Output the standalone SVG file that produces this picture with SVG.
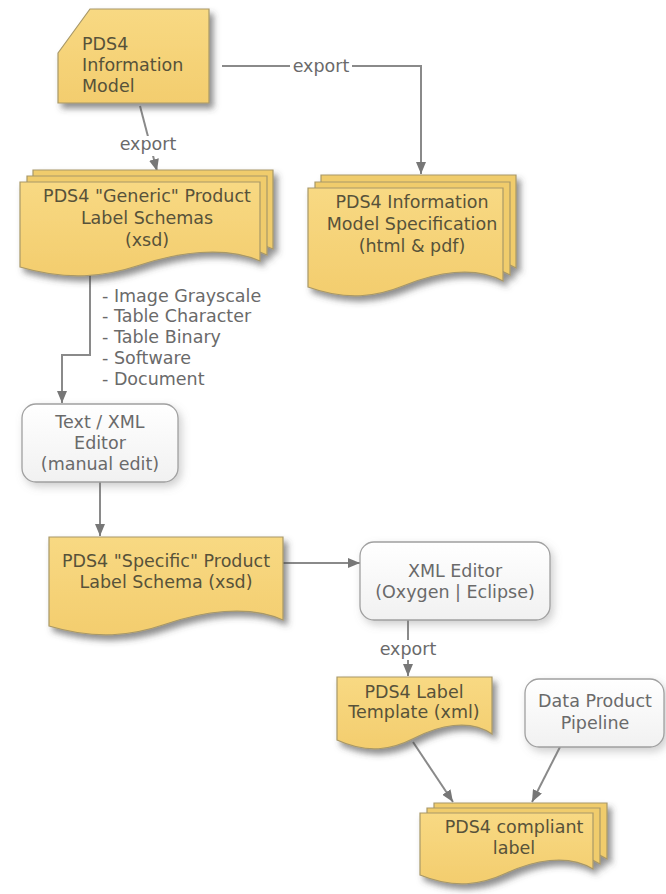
<svg xmlns="http://www.w3.org/2000/svg" xmlns:xlink="http://www.w3.org/1999/xlink" width="666" height="894" viewBox="0 0 666 894">
<style>
  .doc { fill: url(#yellow); stroke: #a89868; stroke-width: 1.2; }
  .back { fill: #F0CC6C; stroke: #a89868; stroke-width: 1.2; }
  .proc { fill: url(#white); stroke: #a0a0a0; stroke-width: 1.3; }
  .t { font-family: "DejaVu Sans", Verdana, sans-serif; font-size: 17.5px; text-anchor: middle; }
  .ty { fill: #57523a; }
  .tg { fill: #6a6a6a; }
  .lbl { font-family: "DejaVu Sans", Verdana, sans-serif; font-size: 17.5px; fill: #6a6a6a; }
  .conn { fill: none; stroke: #8a8a8a; stroke-width: 2; }
</style>
<defs>
  <linearGradient id="yellow" x1="0" y1="0" x2="0" y2="1">
    <stop offset="0" stop-color="#F8D983"/>
    <stop offset="1" stop-color="#F3CD6E"/>
  </linearGradient>
  <linearGradient id="white" x1="0" y1="0" x2="0" y2="1">
    <stop offset="0" stop-color="#ffffff"/>
    <stop offset="1" stop-color="#f1f1f1"/>
  </linearGradient>
  <filter id="shadow" x="-20%" y="-20%" width="150%" height="150%">
    <feDropShadow dx="4" dy="5" stdDeviation="3" flood-color="#444" flood-opacity="0.6"/>
  </filter>
  <filter id="shadowLight" x="-20%" y="-20%" width="150%" height="150%">
    <feDropShadow dx="3" dy="4" stdDeviation="4" flood-color="#777" flood-opacity="0.35"/>
  </filter>
  <marker id="arrow" markerUnits="userSpaceOnUse" markerWidth="12" markerHeight="10" refX="12" refY="5" orient="auto">
    <path d="M0,0 L12,5 L0,10 Z" fill="#777"/>
  </marker>
  <path id="p-generic" d="M20,182 H260 V261 C224,245 176,253 140,265 C104,277 68,281 20,267 Z"/>
  <path id="p-spec" d="M308,188 H503 V281 C474,265 435,273 405.5,285 C376,297 347,301 308,287 Z"/>
  <path id="p-compliant" d="M420,813 H593 V869 C567,853 532.5,861 506.5,873 C480.5,885 454.6,889 420,875 Z"/>
</defs>
<rect width="666" height="894" fill="#ffffff"/>

<g id="connectors">
  <path class="conn" d="M140,106 L157,171" marker-end="url(#arrow)"/>
  <path class="conn" d="M222,66 H421 V174" marker-end="url(#arrow)"/>
  <path class="conn" d="M90,275 V355 H62 V403" marker-end="url(#arrow)"/>
  <path class="conn" d="M100,482 V536" marker-end="url(#arrow)"/>
  <path class="conn" d="M283,563 H360" marker-end="url(#arrow)"/>
  <path class="conn" d="M408,620 V676" marker-end="url(#arrow)"/>
  <path class="conn" d="M413,742 L453,802" marker-end="url(#arrow)"/>
  <path class="conn" d="M560,747 L532,802" marker-end="url(#arrow)"/>
  <rect x="116" y="136" width="64" height="20" fill="#ffffff"/>
  <text class="lbl" x="148" y="150" text-anchor="middle">export</text>
  <rect x="290" y="57" width="62" height="20" fill="#ffffff"/>
  <text class="lbl" x="321" y="72" text-anchor="middle">export</text>
  <rect x="376" y="640" width="64" height="20" fill="#ffffff"/>
  <text class="lbl" x="408" y="655" text-anchor="middle">export</text>
</g>

<g id="info-model">
  <path class="doc" filter="url(#shadow)" d="M58,53 L90,9 H209 V103 H58 Z"/>
  <text class="t ty" text-anchor="start" x="82" y="50" style="text-anchor:start">PDS4</text>
  <text class="t ty" x="82" y="71" style="text-anchor:start">Information</text>
  <text class="t ty" x="82" y="92" style="text-anchor:start">Model</text>
</g>

<g id="generic-schemas">
  <g filter="url(#shadow)">
    <use xlink:href="#p-generic" href="#p-generic" class="back" transform="translate(13,-12)"/>
    <use xlink:href="#p-generic" href="#p-generic" class="back" transform="translate(7,-6)"/>
    <use xlink:href="#p-generic" href="#p-generic" class="doc"/>
  </g>
  <text class="t ty" x="147" y="202">PDS4 "Generic" Product</text>
  <text class="t ty" x="147" y="224">Label Schemas</text>
  <text class="t ty" x="147" y="246">(xsd)</text>
</g>

<g id="model-spec">
  <g filter="url(#shadow)">
    <use xlink:href="#p-spec" href="#p-spec" class="back" transform="translate(13,-13)"/>
    <use xlink:href="#p-spec" href="#p-spec" class="back" transform="translate(7,-6)"/>
    <use xlink:href="#p-spec" href="#p-spec" class="doc"/>
  </g>
  <text class="t ty" x="412" y="208">PDS4 Information</text>
  <text class="t ty" x="412" y="230">Model Specification</text>
  <text class="t ty" x="412" y="252">(html &amp; pdf)</text>
</g>

<g id="product-types">
  <text class="lbl" x="102" y="302">- Image Grayscale</text>
  <text class="lbl" x="102" y="322">- Table Character</text>
  <text class="lbl" x="102" y="343">- Table Binary</text>
  <text class="lbl" x="102" y="364">- Software</text>
  <text class="lbl" x="102" y="385">- Document</text>
</g>

<g id="text-editor">
  <rect class="proc" filter="url(#shadowLight)" x="22" y="404" width="156" height="78" rx="14"/>
  <text class="t tg" x="100" y="428">Text / XML</text>
  <text class="t tg" x="100" y="449">Editor</text>
  <text class="t tg" x="100" y="470">(manual edit)</text>
</g>

<g id="specific-schema">
  <path class="doc" filter="url(#shadow)" d="M49,537 H283 V620 C248,604 201,612 166,624 C131,636 96,640 49,626 Z"/>
  <text class="t ty" x="166" y="567">PDS4 "Specific" Product</text>
  <text class="t ty" x="166" y="588">Label Schema (xsd)</text>
</g>

<g id="xml-editor">
  <rect class="proc" filter="url(#shadowLight)" x="360" y="542" width="190" height="78" rx="14"/>
  <text class="t tg" x="455" y="577">XML Editor</text>
  <text class="t tg" x="455" y="598">(Oxygen | Eclipse)</text>
</g>

<g id="label-template">
  <path class="doc" filter="url(#shadow)" d="M337,677 H492 V734 C469,718 438,726 414.5,738 C391,750 368,754 337,740 Z"/>
  <text class="t ty" x="414" y="698">PDS4 Label</text>
  <text class="t ty" x="414" y="718">Template (xml)</text>
</g>

<g id="pipeline">
  <rect class="proc" filter="url(#shadowLight)" x="525" y="679" width="139" height="68" rx="14"/>
  <text class="t tg" x="595" y="707">Data Product</text>
  <text class="t tg" x="595" y="729">Pipeline</text>
</g>

<g id="compliant-label">
  <g filter="url(#shadow)">
    <use xlink:href="#p-compliant" href="#p-compliant" class="back" transform="translate(14,-10)"/>
    <use xlink:href="#p-compliant" href="#p-compliant" class="back" transform="translate(7,-5)"/>
    <use xlink:href="#p-compliant" href="#p-compliant" class="doc"/>
  </g>
  <text class="t ty" x="514" y="833">PDS4 compliant</text>
  <text class="t ty" x="514" y="854">label</text>
</g>
</svg>
